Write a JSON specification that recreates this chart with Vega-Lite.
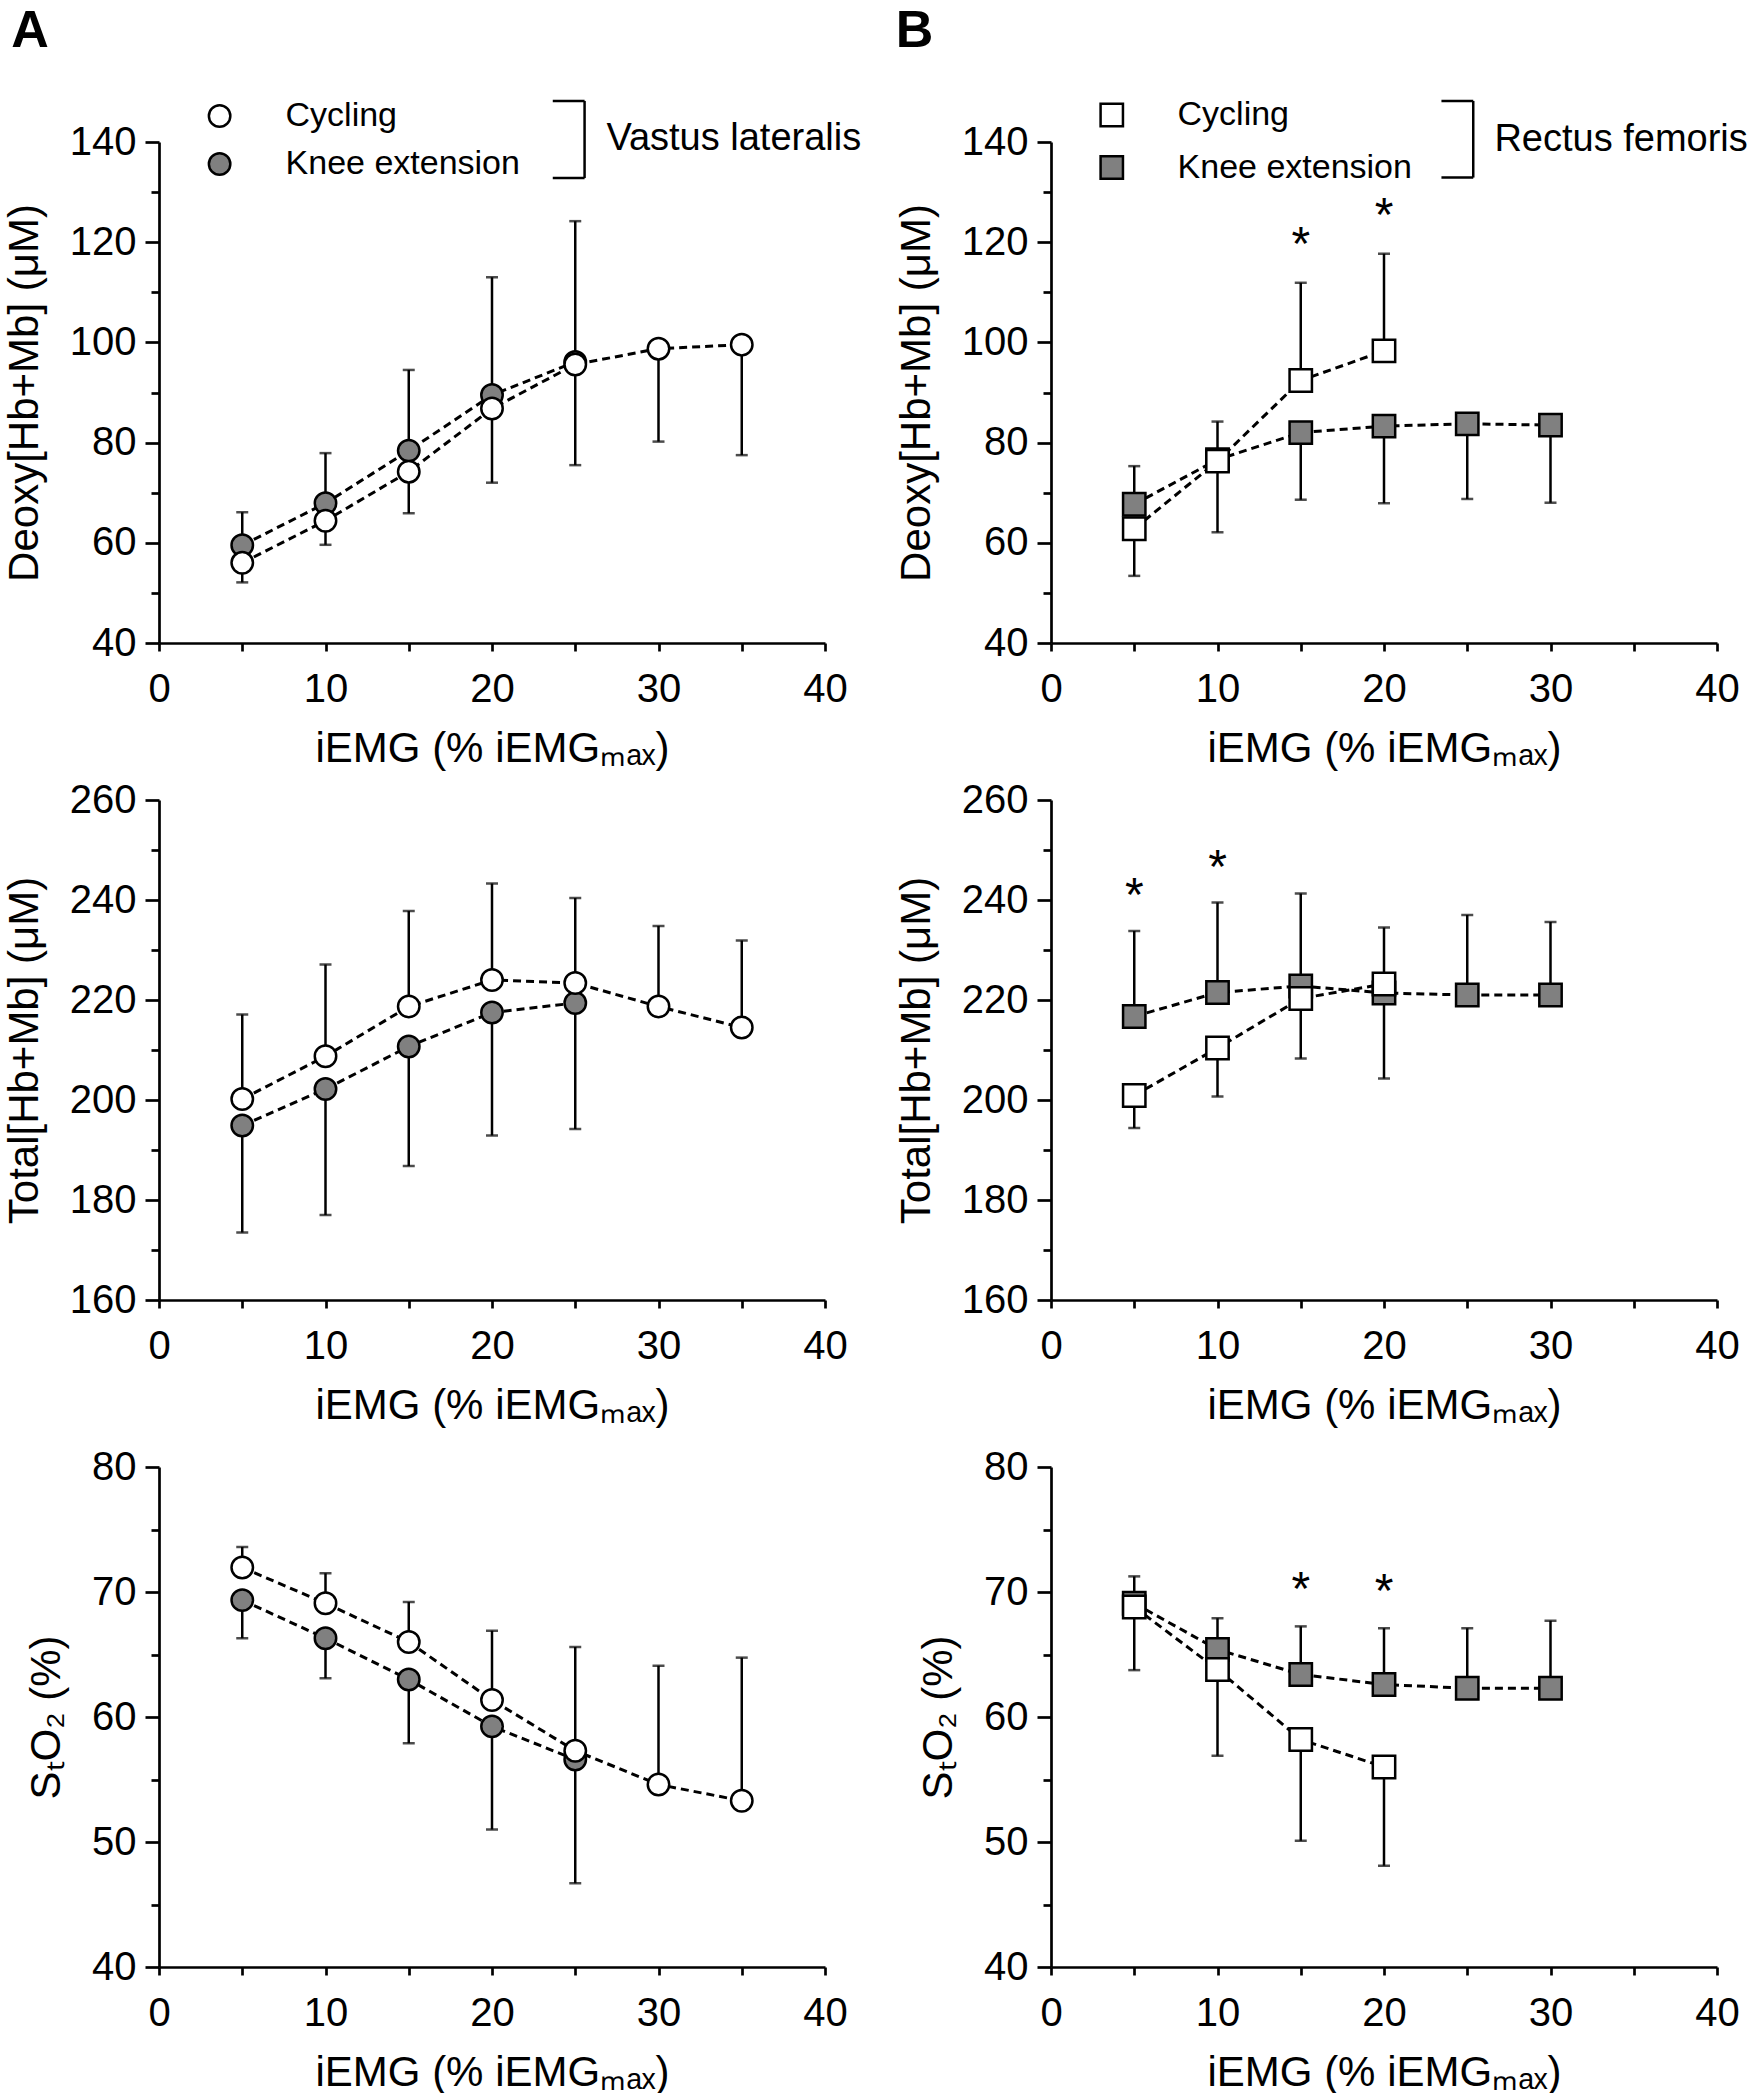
{
 "$schema": "https://vega.github.io/schema/vega-lite/v6.json",
 "background": "white",
 "padding": {"left": 3, "top": 4, "right": 0, "bottom": 0},
 "bounds": "flush",
 "columns": 2,
 "spacing": {"row": 157, "column": 226},
 "concat": [
    {"width": 666, "height": 501,
     "encoding": {
      "x": {"field": "x", "type": "quantitative", "scale": {"domain": [0, 40], "nice": false, "zero": false},
            "axis": {"title": "iEMG (% iEMGₘₐₓ)", "values": [0,5,10,15,20,25,30,35,40], "labelExpr": "datum.value % 10 === 0 ? datum.label : ''", "tickSize": 8, "labelPadding": 18, "titlePadding": 19}},
      "y": {"field": "y", "type": "quantitative", "scale": {"domain": [40, 140], "nice": false, "zero": false},
            "axis": {"title": "Deoxy[Hb+Mb] (μM)", "values": [40,50,60,70,80,90,100,110,120,130,140], "labelExpr": "datum.value % 20 === 0 ? datum.label : ''", "tickSize": {"condition": {"test": "datum.value % 20 === 0", "value": 14}, "value": 8}, "labelPadding": 9, "titlePadding": 23}}
     },
     "layer": [
      {"data": {"name": "series"}, "transform": [{"filter": "datum.panel === 'A1'"}], "mark": {"type": "line", "color": "black", "strokeWidth": 3, "strokeDash": [8, 5]}, "encoding": {"detail": {"field": "group"}}},
      {"data": {"name": "series"}, "transform": [{"filter": "datum.panel === 'A1'"}], "mark": {"type": "errorbar", "color": "black", "thickness": 2.5, "ticks": {"size": 12}}, "encoding": {"y2": {"field": "err"}}},
      {"data": {"name": "series"}, "transform": [{"filter": "datum.panel === 'A1'"}], "mark": {"type": "point", "shape": "circle", "filled": true, "size": 460, "stroke": "black", "strokeWidth": 2.5, "opacity": 1}, "encoding": {"fill": {"field": "group", "type": "nominal", "scale": {"domain": ["Cycling", "Knee extension"], "range": ["#ffffff", "#808080"]}, "legend": null}}},
      {"data": {"name": "notes"}, "transform": [{"filter": "datum.panel === 'A1' && datum.kind === 'symbol'"}], "mark": {"type": "point", "shape": "circle", "filled": true, "size": 460, "stroke": "black", "strokeWidth": 2.5, "opacity": 1}, "encoding": {"fill": {"field": "group", "type": "nominal", "legend": null}}},
      {"data": {"name": "notes"}, "transform": [{"filter": "datum.panel === 'A1' && datum.kind === 'bracket'"}], "mark": {"type": "rule", "color": "black", "strokeWidth": 2.5}, "encoding": {"x2": {"field": "x2"}, "y2": {"field": "y2"}}},
      {"data": {"name": "notes"}, "transform": [{"filter": "datum.panel === 'A1' && datum.kind === 'label'"}], "mark": {"type": "text", "align": "left", "baseline": "middle", "fontSize": 34, "font": "Liberation Sans", "color": "black"}, "encoding": {"text": {"field": "text"}}},
      {"data": {"name": "notes"}, "transform": [{"filter": "datum.panel === 'A1' && datum.kind === 'muscle'"}], "mark": {"type": "text", "align": "left", "baseline": "middle", "fontSize": 38, "font": "Liberation Sans", "color": "black"}, "encoding": {"text": {"field": "text"}}},
      {"data": {"name": "notes"}, "transform": [{"filter": "datum.panel === 'A1' && datum.kind === 'letter'"}], "mark": {"type": "text", "align": "center", "baseline": "alphabetic", "fontSize": 52, "fontWeight": "bold", "font": "Liberation Sans", "color": "black"}, "encoding": {"text": {"field": "text"}}}
     ]},
    {"width": 666, "height": 501,
     "encoding": {
      "x": {"field": "x", "type": "quantitative", "scale": {"domain": [0, 40], "nice": false, "zero": false},
            "axis": {"title": "iEMG (% iEMGₘₐₓ)", "values": [0,5,10,15,20,25,30,35,40], "labelExpr": "datum.value % 10 === 0 ? datum.label : ''", "tickSize": 8, "labelPadding": 18, "titlePadding": 19}},
      "y": {"field": "y", "type": "quantitative", "scale": {"domain": [40, 140], "nice": false, "zero": false},
            "axis": {"title": "Deoxy[Hb+Mb] (μM)", "values": [40,50,60,70,80,90,100,110,120,130,140], "labelExpr": "datum.value % 20 === 0 ? datum.label : ''", "tickSize": {"condition": {"test": "datum.value % 20 === 0", "value": 14}, "value": 8}, "labelPadding": 9, "titlePadding": 23}}
     },
     "layer": [
      {"data": {"name": "series"}, "transform": [{"filter": "datum.panel === 'B1'"}], "mark": {"type": "line", "color": "black", "strokeWidth": 3, "strokeDash": [8, 5]}, "encoding": {"detail": {"field": "group"}}},
      {"data": {"name": "series"}, "transform": [{"filter": "datum.panel === 'B1'"}], "mark": {"type": "errorbar", "color": "black", "thickness": 2.5, "ticks": {"size": 12}}, "encoding": {"y2": {"field": "err"}}},
      {"data": {"name": "series"}, "transform": [{"filter": "datum.panel === 'B1'"}], "mark": {"type": "point", "shape": "square", "filled": true, "size": 500, "stroke": "black", "strokeWidth": 2.5, "opacity": 1}, "encoding": {"fill": {"field": "group", "type": "nominal", "scale": {"domain": ["Cycling", "Knee extension"], "range": ["#ffffff", "#808080"]}, "legend": null}}},
      {"data": {"name": "notes"}, "transform": [{"filter": "datum.panel === 'B1' && datum.kind === 'symbol'"}], "mark": {"type": "point", "shape": "square", "filled": true, "size": 500, "stroke": "black", "strokeWidth": 2.5, "opacity": 1}, "encoding": {"fill": {"field": "group", "type": "nominal", "legend": null}}},
      {"data": {"name": "notes"}, "transform": [{"filter": "datum.panel === 'B1' && datum.kind === 'bracket'"}], "mark": {"type": "rule", "color": "black", "strokeWidth": 2.5}, "encoding": {"x2": {"field": "x2"}, "y2": {"field": "y2"}}},
      {"data": {"name": "notes"}, "transform": [{"filter": "datum.panel === 'B1' && datum.kind === 'label'"}], "mark": {"type": "text", "align": "left", "baseline": "middle", "fontSize": 34, "font": "Liberation Sans", "color": "black"}, "encoding": {"text": {"field": "text"}}},
      {"data": {"name": "notes"}, "transform": [{"filter": "datum.panel === 'B1' && datum.kind === 'muscle'"}], "mark": {"type": "text", "align": "left", "baseline": "middle", "fontSize": 38, "font": "Liberation Sans", "color": "black"}, "encoding": {"text": {"field": "text"}}},
      {"data": {"name": "notes"}, "transform": [{"filter": "datum.panel === 'B1' && datum.kind === 'letter'"}], "mark": {"type": "text", "align": "center", "baseline": "alphabetic", "fontSize": 52, "fontWeight": "bold", "font": "Liberation Sans", "color": "black"}, "encoding": {"text": {"field": "text"}}},
      {"data": {"name": "stars"}, "transform": [{"filter": "datum.panel === 'B1'"}], "mark": {"type": "text", "align": "center", "baseline": "alphabetic", "dy": 27, "fontSize": 48, "font": "Liberation Sans", "color": "black"}, "encoding": {"text": {"value": "*"}}}
     ]},
    {"width": 666, "height": 500,
     "encoding": {
      "x": {"field": "x", "type": "quantitative", "scale": {"domain": [0, 40], "nice": false, "zero": false},
            "axis": {"title": "iEMG (% iEMGₘₐₓ)", "values": [0,5,10,15,20,25,30,35,40], "labelExpr": "datum.value % 10 === 0 ? datum.label : ''", "tickSize": 8, "labelPadding": 18, "titlePadding": 19}},
      "y": {"field": "y", "type": "quantitative", "scale": {"domain": [160, 260], "nice": false, "zero": false},
            "axis": {"title": "Total[Hb+Mb] (μM)", "values": [160,170,180,190,200,210,220,230,240,250,260], "labelExpr": "datum.value % 20 === 0 ? datum.label : ''", "tickSize": {"condition": {"test": "datum.value % 20 === 0", "value": 14}, "value": 8}, "labelPadding": 9, "titlePadding": 23}}
     },
     "layer": [
      {"data": {"name": "series"}, "transform": [{"filter": "datum.panel === 'A2'"}], "mark": {"type": "line", "color": "black", "strokeWidth": 3, "strokeDash": [8, 5]}, "encoding": {"detail": {"field": "group"}}},
      {"data": {"name": "series"}, "transform": [{"filter": "datum.panel === 'A2'"}], "mark": {"type": "errorbar", "color": "black", "thickness": 2.5, "ticks": {"size": 12}}, "encoding": {"y2": {"field": "err"}}},
      {"data": {"name": "series"}, "transform": [{"filter": "datum.panel === 'A2'"}], "mark": {"type": "point", "shape": "circle", "filled": true, "size": 460, "stroke": "black", "strokeWidth": 2.5, "opacity": 1}, "encoding": {"fill": {"field": "group", "type": "nominal", "scale": {"domain": ["Cycling", "Knee extension"], "range": ["#ffffff", "#808080"]}, "legend": null}}}
     ]},
    {"width": 666, "height": 500,
     "encoding": {
      "x": {"field": "x", "type": "quantitative", "scale": {"domain": [0, 40], "nice": false, "zero": false},
            "axis": {"title": "iEMG (% iEMGₘₐₓ)", "values": [0,5,10,15,20,25,30,35,40], "labelExpr": "datum.value % 10 === 0 ? datum.label : ''", "tickSize": 8, "labelPadding": 18, "titlePadding": 19}},
      "y": {"field": "y", "type": "quantitative", "scale": {"domain": [160, 260], "nice": false, "zero": false},
            "axis": {"title": "Total[Hb+Mb] (μM)", "values": [160,170,180,190,200,210,220,230,240,250,260], "labelExpr": "datum.value % 20 === 0 ? datum.label : ''", "tickSize": {"condition": {"test": "datum.value % 20 === 0", "value": 14}, "value": 8}, "labelPadding": 9, "titlePadding": 23}}
     },
     "layer": [
      {"data": {"name": "series"}, "transform": [{"filter": "datum.panel === 'B2'"}], "mark": {"type": "line", "color": "black", "strokeWidth": 3, "strokeDash": [8, 5]}, "encoding": {"detail": {"field": "group"}}},
      {"data": {"name": "series"}, "transform": [{"filter": "datum.panel === 'B2'"}], "mark": {"type": "errorbar", "color": "black", "thickness": 2.5, "ticks": {"size": 12}}, "encoding": {"y2": {"field": "err"}}},
      {"data": {"name": "series"}, "transform": [{"filter": "datum.panel === 'B2'"}], "mark": {"type": "point", "shape": "square", "filled": true, "size": 500, "stroke": "black", "strokeWidth": 2.5, "opacity": 1}, "encoding": {"fill": {"field": "group", "type": "nominal", "scale": {"domain": ["Cycling", "Knee extension"], "range": ["#ffffff", "#808080"]}, "legend": null}}},
      {"data": {"name": "stars"}, "transform": [{"filter": "datum.panel === 'B2'"}], "mark": {"type": "text", "align": "center", "baseline": "alphabetic", "dy": 27, "fontSize": 48, "font": "Liberation Sans", "color": "black"}, "encoding": {"text": {"value": "*"}}}
     ]},
   {"width": 666, "height": 510,
    "encoding": {
     "x": {"field": "x", "type": "quantitative", "scale": {"domain": [0, 40], "nice": false, "zero": false},
           "axis": {"title": "iEMG (% iEMGₘₐₓ)", "values": [0,5,10,15,20,25,30,35,40], "labelExpr": "datum.value % 10 === 0 ? datum.label : ''", "tickSize": 8, "labelPadding": 18, "titlePadding": 19}},
     "y": {"field": "y", "type": "quantitative", "scale": {"domain": [40, 80], "range": [510, 10], "nice": false, "zero": false},
           "axis": {"title": "SₜO₂ (%)", "values": [40,45,50,55,60,65,70,75,80], "labelExpr": "datum.value % 10 === 0 ? datum.label : ''", "tickSize": {"condition": {"test": "datum.value % 10 === 0", "value": 14}, "value": 8}, "labelPadding": 9, "titlePadding": 23}}
    },
    "layer": [
     {"data": {"name": "series"}, "transform": [{"filter": "datum.panel === 'A3'"}], "mark": {"type": "line", "color": "black", "strokeWidth": 3, "strokeDash": [8, 5]}, "encoding": {"detail": {"field": "group"}}},
     {"data": {"name": "series"}, "transform": [{"filter": "datum.panel === 'A3'"}], "mark": {"type": "errorbar", "color": "black", "thickness": 2.5, "ticks": {"size": 12}}, "encoding": {"y2": {"field": "err"}}},
     {"data": {"name": "series"}, "transform": [{"filter": "datum.panel === 'A3'"}], "mark": {"type": "point", "shape": "circle", "filled": true, "size": 460, "stroke": "black", "strokeWidth": 2.5, "opacity": 1}, "encoding": {"fill": {"field": "group", "type": "nominal", "scale": {"domain": ["Cycling", "Knee extension"], "range": ["#ffffff", "#808080"]}, "legend": null}}}
    ]},
   {"width": 666, "height": 510,
    "encoding": {
     "x": {"field": "x", "type": "quantitative", "scale": {"domain": [0, 40], "nice": false, "zero": false},
           "axis": {"title": "iEMG (% iEMGₘₐₓ)", "values": [0,5,10,15,20,25,30,35,40], "labelExpr": "datum.value % 10 === 0 ? datum.label : ''", "tickSize": 8, "labelPadding": 18, "titlePadding": 19}},
     "y": {"field": "y", "type": "quantitative", "scale": {"domain": [40, 80], "range": [510, 10], "nice": false, "zero": false},
           "axis": {"title": "SₜO₂ (%)", "values": [40,45,50,55,60,65,70,75,80], "labelExpr": "datum.value % 10 === 0 ? datum.label : ''", "tickSize": {"condition": {"test": "datum.value % 10 === 0", "value": 14}, "value": 8}, "labelPadding": 9, "titlePadding": 23}}
    },
    "layer": [
     {"data": {"name": "series"}, "transform": [{"filter": "datum.panel === 'B3'"}], "mark": {"type": "line", "color": "black", "strokeWidth": 3, "strokeDash": [8, 5]}, "encoding": {"detail": {"field": "group"}}},
     {"data": {"name": "series"}, "transform": [{"filter": "datum.panel === 'B3'"}], "mark": {"type": "errorbar", "color": "black", "thickness": 2.5, "ticks": {"size": 12}}, "encoding": {"y2": {"field": "err"}}},
     {"data": {"name": "series"}, "transform": [{"filter": "datum.panel === 'B3'"}], "mark": {"type": "point", "shape": "square", "filled": true, "size": 500, "stroke": "black", "strokeWidth": 2.5, "opacity": 1}, "encoding": {"fill": {"field": "group", "type": "nominal", "scale": {"domain": ["Cycling", "Knee extension"], "range": ["#ffffff", "#808080"]}, "legend": null}}},
     {"data": {"name": "stars"}, "transform": [{"filter": "datum.panel === 'B3'"}], "mark": {"type": "text", "align": "center", "baseline": "alphabetic", "dy": 27, "fontSize": 48, "font": "Liberation Sans", "color": "black"}, "encoding": {"text": {"value": "*"}}}
    ]}
 ],
 "datasets": {
  "series": [
   {"panel": "A1", "group": "Knee extension", "x": 5, "y": 59.5, "err": 66.1},
   {"panel": "A1", "group": "Knee extension", "x": 10, "y": 67.9, "err": 77.9},
   {"panel": "A1", "group": "Knee extension", "x": 15, "y": 78.4, "err": 94.5},
   {"panel": "A1", "group": "Knee extension", "x": 20, "y": 89.5, "err": 113.0},
   {"panel": "A1", "group": "Knee extension", "x": 25, "y": 96.1, "err": 124.2},
   {"panel": "A1", "group": "Cycling", "x": 5, "y": 56.0, "err": 52.1},
   {"panel": "A1", "group": "Cycling", "x": 10, "y": 64.4, "err": 59.6},
   {"panel": "A1", "group": "Cycling", "x": 15, "y": 74.2, "err": 65.9},
   {"panel": "A1", "group": "Cycling", "x": 20, "y": 86.8, "err": 72.0},
   {"panel": "A1", "group": "Cycling", "x": 25, "y": 95.6, "err": 75.5},
   {"panel": "A1", "group": "Cycling", "x": 30, "y": 98.75, "err": 80.2},
   {"panel": "A1", "group": "Cycling", "x": 35, "y": 99.55, "err": 77.5},

   {"panel": "B1", "group": "Knee extension", "x": 5, "y": 67.7, "err": 75.3},
   {"panel": "B1", "group": "Knee extension", "x": 10, "y": 76.6, "err": 84.2},
   {"panel": "B1", "group": "Knee extension", "x": 15, "y": 82.0, "err": 68.6},
   {"panel": "B1", "group": "Knee extension", "x": 20, "y": 83.3, "err": 67.9},
   {"panel": "B1", "group": "Knee extension", "x": 25, "y": 83.75, "err": 68.75},
   {"panel": "B1", "group": "Knee extension", "x": 30, "y": 83.5, "err": 68.0},
   {"panel": "B1", "group": "Cycling", "x": 5, "y": 62.8, "err": 53.4},
   {"panel": "B1", "group": "Cycling", "x": 10, "y": 76.3, "err": 62.1},
   {"panel": "B1", "group": "Cycling", "x": 15, "y": 92.4, "err": 111.9},
   {"panel": "B1", "group": "Cycling", "x": 20, "y": 98.3, "err": 117.7},

   {"panel": "A2", "group": "Knee extension", "x": 5, "y": 194.9, "err": 173.5},
   {"panel": "A2", "group": "Knee extension", "x": 10, "y": 202.2, "err": 177.0},
   {"panel": "A2", "group": "Knee extension", "x": 15, "y": 210.7, "err": 186.8},
   {"panel": "A2", "group": "Knee extension", "x": 20, "y": 217.5, "err": 192.9},
   {"panel": "A2", "group": "Knee extension", "x": 25, "y": 219.4, "err": 194.2},
   {"panel": "A2", "group": "Cycling", "x": 5, "y": 200.2, "err": 217.1},
   {"panel": "A2", "group": "Cycling", "x": 10, "y": 208.75, "err": 227.1},
   {"panel": "A2", "group": "Cycling", "x": 15, "y": 218.7, "err": 237.8},
   {"panel": "A2", "group": "Cycling", "x": 20, "y": 224.0, "err": 243.3},
   {"panel": "A2", "group": "Cycling", "x": 25, "y": 223.4, "err": 240.4},
   {"panel": "A2", "group": "Cycling", "x": 30, "y": 218.7, "err": 234.8},
   {"panel": "A2", "group": "Cycling", "x": 35, "y": 214.5, "err": 231.9},

   {"panel": "B2", "group": "Knee extension", "x": 5, "y": 216.7, "err": 233.8},
   {"panel": "B2", "group": "Knee extension", "x": 10, "y": 221.5, "err": 239.5},
   {"panel": "B2", "group": "Knee extension", "x": 15, "y": 222.8, "err": 241.3},
   {"panel": "B2", "group": "Knee extension", "x": 20, "y": 221.4, "err": 204.3},
   {"panel": "B2", "group": "Knee extension", "x": 25, "y": 221.0, "err": 237.0},
   {"panel": "B2", "group": "Knee extension", "x": 30, "y": 221.0, "err": 235.6},
   {"panel": "B2", "group": "Cycling", "x": 5, "y": 200.9, "err": 194.4},
   {"panel": "B2", "group": "Cycling", "x": 10, "y": 210.4, "err": 200.7},
   {"panel": "B2", "group": "Cycling", "x": 15, "y": 220.3, "err": 208.3},
   {"panel": "B2", "group": "Cycling", "x": 20, "y": 223.2, "err": 234.5},

   {"panel": "A3", "group": "Knee extension", "x": 5, "y": 69.35, "err": 66.3},
   {"panel": "A3", "group": "Knee extension", "x": 10, "y": 66.3, "err": 63.1},
   {"panel": "A3", "group": "Knee extension", "x": 15, "y": 63.0, "err": 57.9},
   {"panel": "A3", "group": "Knee extension", "x": 20, "y": 59.25, "err": 51.0},
   {"panel": "A3", "group": "Knee extension", "x": 25, "y": 56.6, "err": 46.7},
   {"panel": "A3", "group": "Cycling", "x": 5, "y": 71.96, "err": 73.6},
   {"panel": "A3", "group": "Cycling", "x": 10, "y": 69.1, "err": 71.5},
   {"panel": "A3", "group": "Cycling", "x": 15, "y": 66.0, "err": 69.2},
   {"panel": "A3", "group": "Cycling", "x": 20, "y": 61.36, "err": 66.9},
   {"panel": "A3", "group": "Cycling", "x": 25, "y": 57.3, "err": 65.6},
   {"panel": "A3", "group": "Cycling", "x": 30, "y": 54.6, "err": 64.1},
   {"panel": "A3", "group": "Cycling", "x": 35, "y": 53.3, "err": 64.75},

   {"panel": "B3", "group": "Knee extension", "x": 5, "y": 69.1, "err": 71.25},
   {"panel": "B3", "group": "Knee extension", "x": 10, "y": 65.4, "err": 67.9},
   {"panel": "B3", "group": "Knee extension", "x": 15, "y": 63.4, "err": 67.25},
   {"panel": "B3", "group": "Knee extension", "x": 20, "y": 62.6, "err": 67.1},
   {"panel": "B3", "group": "Knee extension", "x": 25, "y": 62.3, "err": 67.1},
   {"panel": "B3", "group": "Knee extension", "x": 30, "y": 62.3, "err": 67.7},
   {"panel": "B3", "group": "Cycling", "x": 5, "y": 68.8, "err": 63.75},
   {"panel": "B3", "group": "Cycling", "x": 10, "y": 63.8, "err": 56.9},
   {"panel": "B3", "group": "Cycling", "x": 15, "y": 58.2, "err": 50.1},
   {"panel": "B3", "group": "Cycling", "x": 20, "y": 56.0, "err": 48.1}
  ],
  "stars": [
   {"panel": "B1", "x": 15, "y": 121.8},
   {"panel": "B1", "x": 20, "y": 127.6},
   {"panel": "B2", "x": 5, "y": 243.3},
   {"panel": "B2", "x": 10, "y": 248.8},
   {"panel": "B3", "x": 15, "y": 71.1},
   {"panel": "B3", "x": 20, "y": 71.0}
  ],
  "notes": [
   {"panel": "A1", "kind": "symbol", "group": "Cycling", "x": 3.64, "y": 145.2},
   {"panel": "A1", "kind": "symbol", "group": "Knee extension", "x": 3.64, "y": 135.6},
   {"panel": "A1", "kind": "label", "text": "Cycling", "x": 7.6, "y": 145.2},
   {"panel": "A1", "kind": "label", "text": "Knee extension", "x": 7.6, "y": 135.6},
   {"panel": "A1", "kind": "muscle", "text": "Vastus lateralis", "x": 26.87, "y": 140.56},
   {"panel": "A1", "kind": "bracket", "x": 25.56, "x2": 25.56, "y": 132.8, "y2": 148.2},
   {"panel": "A1", "kind": "bracket", "x": 23.65, "x2": 25.56, "y": 148.2, "y2": 148.2},
   {"panel": "A1", "kind": "bracket", "x": 23.65, "x2": 25.56, "y": 132.8, "y2": 132.8},
   {"panel": "A1", "kind": "letter", "text": "A", "x": -7.74, "y": 159.0},
   {"panel": "B1", "kind": "symbol", "group": "Cycling", "x": 3.65, "y": 145.4},
   {"panel": "B1", "kind": "symbol", "group": "Knee extension", "x": 3.65, "y": 134.9},
   {"panel": "B1", "kind": "label", "text": "Cycling", "x": 7.6, "y": 145.4},
   {"panel": "B1", "kind": "label", "text": "Knee extension", "x": 7.6, "y": 134.9},
   {"panel": "B1", "kind": "muscle", "text": "Rectus femoris", "x": 26.63, "y": 140.4},
   {"panel": "B1", "kind": "bracket", "x": 25.36, "x2": 25.36, "y": 132.9, "y2": 148.2},
   {"panel": "B1", "kind": "bracket", "x": 23.45, "x2": 25.36, "y": 148.2, "y2": 148.2},
   {"panel": "B1", "kind": "bracket", "x": 23.45, "x2": 25.36, "y": 132.9, "y2": 132.9},
   {"panel": "B1", "kind": "letter", "text": "B", "x": -8.2, "y": 159.0}
  ]
 },
 "config": {
  "view": {"stroke": null},
  "axis": {
   "grid": false,
   "domainColor": "black", "domainWidth": 2.7,
   "tickColor": "black", "tickWidth": 2.7,
   "labelFont": "Liberation Sans", "labelFontSize": 40, "labelColor": "black",
   "labelFlush": false, "labelOverlap": false,
   "titleFont": "Liberation Sans", "titleFontSize": 42, "titleFontWeight": "normal", "titleColor": "black"
  }
 }
}
